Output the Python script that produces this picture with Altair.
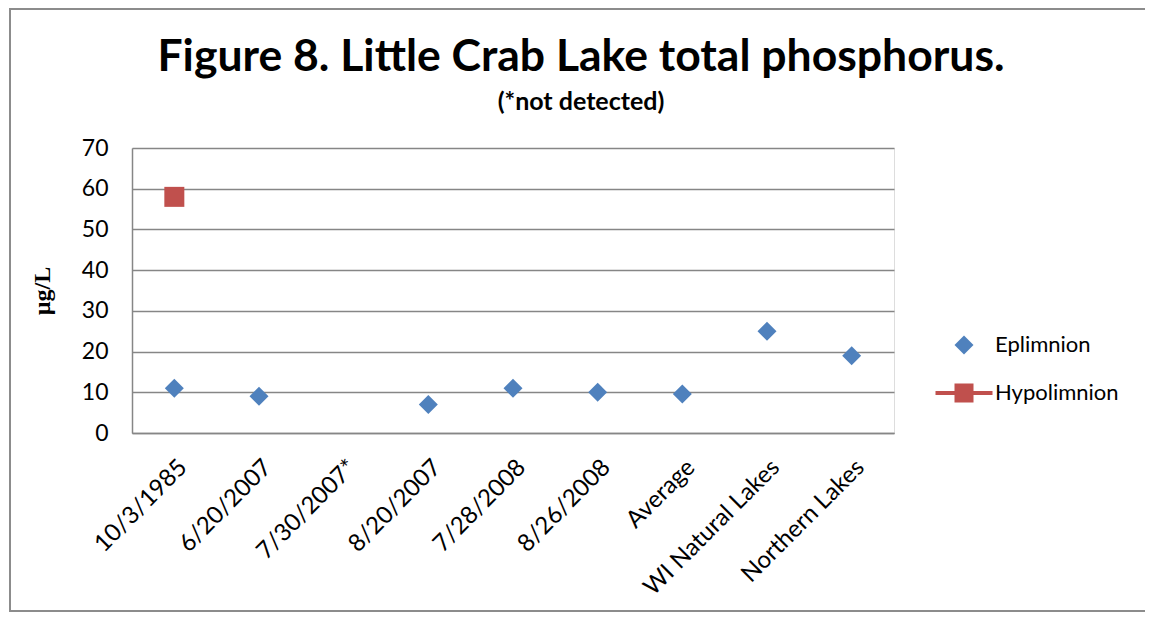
import altair as alt
import pandas as pd

categories = ["10/3/1985", "6/20/2007", "7/30/2007*", "8/20/2007", "7/28/2008",
              "8/26/2008", "Average", "WI Natural Lakes", "Northern Lakes"]
eplimnion = [11, 9, None, 7, 11, 10, 9.6, 25, 19]
hypolimnion = [58, None, None, None, None, None, None, None, None]
series_names = ["Eplimnion", "Hypolimnion"]
series_colors = ["#4F81BD", "#C0504D"]
y_ticks = [0, 10, 20, 30, 40, 50, 60, 70]

epi_df = pd.DataFrame({"Date": categories, "Value": eplimnion}).dropna()
hypo_df = pd.DataFrame({"Date": categories, "Value": hypolimnion}).dropna()
legend_df = pd.DataFrame({"Series": series_names})
frame_df = pd.DataFrame({"k": [0]})

FONT = "Lato"

x_enc = alt.X("Date:N", sort=categories, scale=alt.Scale(domain=categories),
              axis=alt.Axis(title=None, labelAngle=-45, labelFontSize=24, labelFont=FONT,
                            labelColor="#000000", labelPadding=22, ticks=False, labelLimit=400,
                            domainColor="#868686", domainWidth=1.5, grid=False,
                            labelAlign="right", labelBaseline="top"))
y_enc = alt.Y("Value:Q", scale=alt.Scale(domain=[0, 70], nice=False),
              axis=alt.Axis(title="µg/L", values=y_ticks, labelFontSize=23, labelFont=FONT,
                            labelColor="#000000", labelPadding=24, ticks=False,
                            domainColor="#868686", domainWidth=1.5,
                            gridColor="#868686", gridWidth=1.5,
                            titleFont="Liberation Serif", titleFontSize=24,
                            titleFontWeight="bold", titleColor="#000000", titlePadding=27))

epi = alt.Chart(epi_df).mark_point(shape="diamond", filled=True, size=360,
                                   color=series_colors[0], opacity=1).encode(x=x_enc, y=y_enc)
hypo = alt.Chart(hypo_df).mark_point(shape="square", filled=True, size=400,
                                     color=series_colors[1], opacity=1).encode(x=x_enc, y=y_enc)

legend_cfg = dict(title=None, orient="none", legendX=821, legendY=186,
                  labelFont=FONT, labelFontSize=22, labelColor="#000000",
                  symbolSize=361, symbolOpacity=1, symbolStrokeWidth=0,
                  labelOffset=20, rowPadding=26, padding=0)

legend_layer = alt.Chart(legend_df).mark_point(filled=True, opacity=0).encode(
    x=alt.value(0), y=alt.value(0),
    color=alt.Color("Series:N", scale=alt.Scale(domain=series_names, range=series_colors),
                    legend=alt.Legend(**legend_cfg)),
    shape=alt.Shape("Series:N", scale=alt.Scale(
        domain=series_names,
        range=["diamond", "M-3,-0.22H3V0.22H-3Z M-1,-1H1V1H-1Z"]),
        legend=alt.Legend(**legend_cfg)),
)

frame = alt.Chart(frame_df).mark_rect(fill=None, stroke="#8c8c8c", strokeWidth=2).encode(
    x=alt.value(-122), x2=alt.value(1080), y=alt.value(-139), y2=alt.value(463))

chart = alt.layer(frame, epi, hypo, legend_layer).properties(
    width=762, height=285,
    padding={"left": 124, "top": 140, "right": 251, "bottom": 179},
    autosize=alt.AutoSizeParams(type="none"),
    title=alt.TitleParams(
        text="Figure 8. Little Crab Lake total phosphorus.",
        subtitle="(*not detected)",
        font=FONT, fontSize=44.5, fontWeight="bold", color="#000000",
        subtitleFont=FONT, subtitleFontSize=25, subtitleFontWeight="bold",
        subtitleColor="#000000", subtitlePadding=10,
        anchor="middle", dx=68, dy=108, offset=0),
).configure_view(stroke=None).configure(background="white")

chart.save("out.html", embed_options={"renderer": "svg", "actions": False})
